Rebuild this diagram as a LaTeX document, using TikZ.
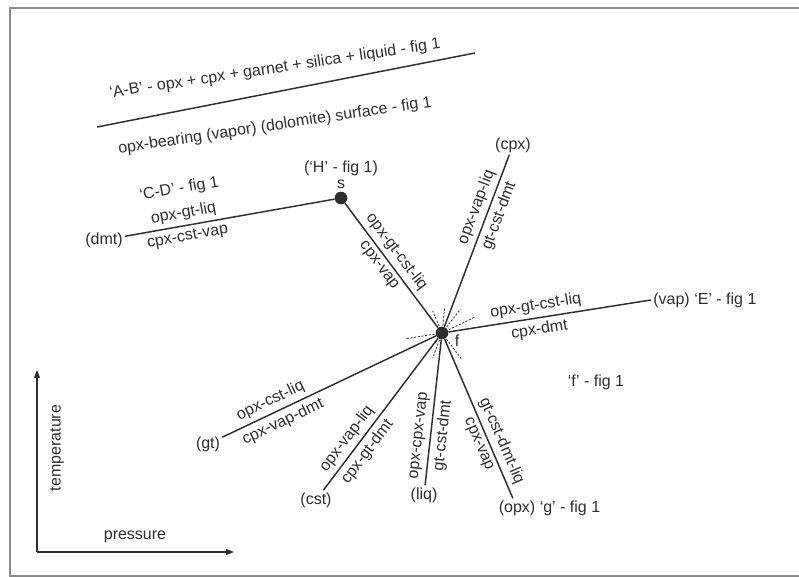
\documentclass[tikz,border=0pt]{standalone}
\usepackage{fontspec}
\setmainfont{Liberation Sans}
\usepackage{tikz}
\usetikzlibrary{arrows.meta,positioning}

\definecolor{ink}{HTML}{2E2E2E}
\definecolor{framegray}{HTML}{8A8A8A}

\tikzset{
  phase/.style={line width=1.1pt, draw=ink},
  stub/.style={line width=0.6pt, draw=ink, dash pattern=on 1.6pt off 1.2pt},
  invpt/.style={circle, fill=ink, inner sep=0pt, minimum size=9.5pt},
  lab/.style={inner sep=1.5pt, text=ink},
  rxn/.style={sloped, inner sep=3pt, text=ink},
  axis/.style={line width=0.9pt, draw=ink, -{Triangle[length=6pt,width=4.5pt]}}
}

\begin{document}
\begin{tikzpicture}[x=0.75pt, y=0.75pt, font=\fontsize{12}{14.4}\selectfont]
        \useasboundingbox (0,0) rectangle (799,-577);
        \draw [framegray, line width=1.4pt] (799,-8) -- (10,-8) -- (10,-576) -- (799,-576); %frame

        \coordinate (ab1) at (97,-127);                                    %A-B
        \coordinate (ab2) at (475,-53);                                    %
        \draw [phase] (ab1) -- (ab2);                                      %
        \node [lab, rotate=8.5] (abtxt)   at (275,-69)  {‘A-B’ - opx + cpx + garnet + silica + liquid - fig 1};
        \node [lab, rotate=8.5] (surftxt) at (275,-126) {opx-bearing (vapor) (dolomite) surface - fig 1};

        \node [invpt] (s) at (341,-198) {};                                %s
        \node [invpt] (f) at (442,-333) {};                                %f
        \node [lab, above=0pt of s]    (slab) {s};                         %
        \node [lab, above=0pt of slab] (hlab) {(‘H’ - fig 1)};             %
        \node [lab] (flab) at (457,-341) {f};                              %

        \node [lab] (dmt) at (104,-240) {(dmt)};                           %ends
        \node [lab] (cpx) at (513,-145) {(cpx)};                           %
        \node [lab, anchor=west] (vap) at (651,-300) {(vap)};              %
        \node [lab, right=0pt of vap] (efig) {‘E’ - fig 1};                %
        \node [lab] (gt)  at (208,-444) {(gt)};                            %
        \node [lab] (cst) at (316,-500) {(cst)};                           %
        \node [lab] (liq) at (424,-495) {(liq)};                           %
        \node [lab] (opx) at (517,-508) {(opx)};                           %
        \node [lab, right=0pt of opx] (gfig) {‘g’ - fig 1};                %
        \node [lab] (ffig) at (596,-382) {‘f’ - fig 1};                    %

        \draw [phase] (dmt) -- (s)                                         %C-D
              node [rxn, pos=0.29, above, align=center] {‘C-D’ - fig 1\\[4pt]opx-gt-liq}
              node [rxn, pos=0.29, below] {cpx-cst-vap};
        \draw [phase] (s) -- (f)                                           %s-f
              node [rxn, pos=0.45, above] {opx-gt-cst-liq}
              node [rxn, pos=0.45, below] {cpx-vap};
        \draw [phase] (f) -- (cpx)                                         %(cpx)
              node [rxn, pos=0.67, above] {opx-vap-liq}
              node [rxn, pos=0.67, below] {gt-cst-dmt};
        \draw [phase] (f) -- (vap.west)                                    %(vap)
              node [rxn, pos=0.44, above] {opx-gt-cst-liq}
              node [rxn, pos=0.44, below] {cpx-dmt};
        \draw [phase] (gt) -- (f)                                          %(gt)
              node [rxn, pos=0.25, above] {opx-cst-liq}
              node [rxn, pos=0.26, below] {cpx-vap-dmt};
        \draw [phase] (cst) -- (f)                                         %(cst)
              node [rxn, pos=0.29, above] {opx-vap-liq}
              node [rxn, pos=0.30, below] {cpx-gt-dmt};
        \draw [phase] (liq) -- (f)                                         %(liq)
              node [rxn, pos=0.33, above] {opx-cpx-vap}
              node [rxn, pos=0.35, below] {gt-cst-dmt};
        \draw [phase] (f) -- (opx)                                         %(opx)
              node [rxn, pos=0.67, above] {gt-cst-dmt-liq}
              node [rxn, pos=0.635, below] {cpx-vap};

        \foreach \ang/\len in {189/37, 25.8/36, 52.2/30, 83.9/25, 112.9/24, 249.7/27, -53.2/32}
              \draw [stub] (f.center) -- ++(\ang:\len);                    %metastable

        \coordinate (orig) at (37,-552);                                   %axes
        \coordinate (tend) at (37,-370);                                   %
        \coordinate (pend) at (234,-552);                                  %
        \draw [axis] (orig) -- (tend);                                     %
        \draw [axis] (orig) -- (pend);                                     %
        \node [lab, rotate=90] (temp) at (57,-448)  {temperature};         %
        \node [lab]            (pres) at (135,-537) {pressure};            %
\end{tikzpicture}
\end{document}
